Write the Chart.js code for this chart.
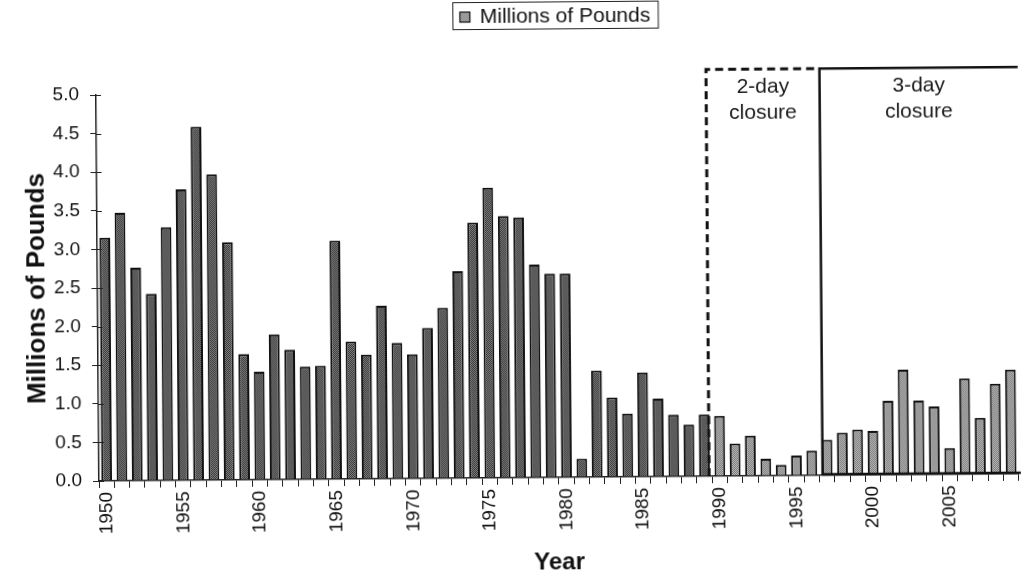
<!DOCTYPE html>
<html>
<head>
<meta charset="utf-8">
<script src="https://cdn.jsdelivr.net/npm/chart.js@4.4.0/dist/chart.umd.min.js"></script>
<style>
  html, body { margin: 0; padding: 0; background: #fff; overflow: hidden; }
  #wrap { position: relative; width: 1038px; height: 582px; }
  /* the source is a slightly skewed scan: right end sits a few px higher */
  #chart { transform: rotate(-0.45deg); transform-origin: 99px 481px; }
</style>
</head>
<body>
<div id="wrap"><canvas id="chart" width="1038" height="582"></canvas></div>
<script>
// Annual harvest, 1950-2009
const YEARS = [
  1950, 1951, 1952, 1953, 1954, 1955, 1956, 1957, 1958, 1959,
  1960, 1961, 1962, 1963, 1964, 1965, 1966, 1967, 1968, 1969,
  1970, 1971, 1972, 1973, 1974, 1975, 1976, 1977, 1978, 1979,
  1980, 1981, 1982, 1983, 1984, 1985, 1986, 1987, 1988, 1989,
  1990, 1991, 1992, 1993, 1994, 1995, 1996, 1997, 1998, 1999,
  2000, 2001, 2002, 2003, 2004, 2005, 2006, 2007, 2008, 2009,
];
const POUNDS = [
  3.15, 3.47, 2.76, 2.42, 3.28, 3.77, 4.58, 3.96, 3.08, 1.63,
  1.40, 1.88, 1.68, 1.46, 1.47, 3.09, 1.78, 1.61, 2.24, 1.76,
  1.61, 1.95, 2.21, 2.68, 3.31, 3.76, 3.39, 3.37, 2.76, 2.64,
  2.64, 0.24, 1.38, 1.03, 0.82, 1.35, 1.01, 0.80, 0.67, 0.80,
  0.78, 0.42, 0.52, 0.22, 0.14, 0.26, 0.32, 0.46, 0.55, 0.59,
  0.57, 0.96, 1.36, 0.96, 0.88, 0.34, 1.24, 0.73, 1.17, 1.35,
];
const SERIES_LABEL = 'Millions of Pounds';
const Y_TICKS = [0, 0.5, 1, 1.5, 2, 2.5, 3, 3.5, 4, 4.5, 5];

// closure periods: label lines + first year
const CLOSURES = [
  { start: 1990, lines: ['2-day', 'closure'], dashed: true },
  { start: 1997, lines: ['3-day', 'closure'], dashed: false },
];

Chart.defaults.font.family = '"Liberation Sans", Arial, sans-serif';
Chart.defaults.color = '#111';

// stippled grey fill like the scanned print
function stipple(dark, light) {
  const c = document.createElement('canvas');
  c.width = 2; c.height = 2;
  const g = c.getContext('2d');
  g.fillStyle = light; g.fillRect(0, 0, 2, 2);
  g.fillStyle = dark; g.fillRect(0, 0, 1, 1); g.fillRect(1, 1, 1, 1);
  return g.createPattern(c, 'repeat');
}
const darkFill = stipple('#383838', '#7e7e7e');
const lightFill = stipple('#767676', '#bdbdbd');

function yearIndex(y) { return YEARS.indexOf(y); }

/** Dashed / solid boxes marking the closure periods. */
const closurePlugin = {
  id: 'closures',
  afterDatasetsDraw(chart) {
    const { ctx, chartArea, scales: { x, y } } = chart;
    const top = y.getPixelForValue(5.27);
    const bottom = y.getPixelForValue(0);
    const edges = CLOSURES.map(c => x.getPixelForValue(yearIndex(c.start) - (c.dashed ? 0.7 : 0.3)));
    ctx.save();
    ctx.strokeStyle = '#111';
    CLOSURES.forEach((c, i) => {
      const x1 = edges[i];
      const x2 = i + 1 < edges.length ? edges[i + 1] : chartArea.right + 2;
      ctx.lineWidth = c.dashed ? 3 : 2.5;
      ctx.setLineDash(c.dashed ? [8, 5] : []);
      ctx.beginPath();
      ctx.moveTo(x1, bottom);
      ctx.lineTo(x1, top);
      ctx.lineTo(x2, top);
      if (!c.dashed) {
        ctx.moveTo(x1, bottom - 1);
        ctx.lineTo(x2, bottom - 1);
      }
      ctx.stroke();
      ctx.setLineDash([]);
      ctx.fillStyle = '#1a1a1a';
      ctx.font = '21px "Liberation Sans", Arial, sans-serif';
      ctx.textAlign = 'center';
      ctx.textBaseline = 'middle';
      const cx = (x1 + x2) / 2;
      c.lines.forEach((t, j) => ctx.fillText(t, cx, top + 18 + j * 26));
    });
    ctx.restore();
  },
};

/** Framed legend at the top centre, like the original. */
const legendBoxPlugin = {
  id: 'legendBox',
  afterDraw(chart) {
    const { ctx, chartArea } = chart;
    ctx.save();
    ctx.font = '21px "Liberation Sans", Arial, sans-serif';
    const tw = ctx.measureText(SERIES_LABEL).width;
    const w = 7 + 10 + 10 + tw + 8;
    const left = Math.round((chartArea.left + chartArea.right) / 2 - w / 2) + 0.5;
    ctx.strokeStyle = '#222';
    ctx.lineWidth = 1;
    ctx.strokeRect(left, 5.5, w, 27);
    ctx.fillStyle = lightFill;
    ctx.fillRect(left + 7, 15, 10, 10);
    ctx.strokeStyle = '#111';
    ctx.lineWidth = 1.2;
    ctx.strokeRect(left + 7, 15, 10, 10);
    ctx.fillStyle = '#111';
    ctx.textBaseline = 'middle';
    ctx.fillText(SERIES_LABEL, left + 27, 20);
    ctx.restore();
  },
};

/** Excel-style tick marks that cross the value axis. */
const crossTicksPlugin = {
  id: 'crossTicks',
  afterDraw(chart) {
    const { ctx, chartArea, scales: { y } } = chart;
    ctx.save();
    ctx.strokeStyle = '#222';
    ctx.lineWidth = 1;
    Y_TICKS.forEach(v => {
      const py = Math.round(y.getPixelForValue(v)) + 0.5;
      ctx.beginPath();
      ctx.moveTo(chartArea.left, py);
      ctx.lineTo(chartArea.left + 5, py);
      ctx.stroke();
    });
    ctx.restore();
  },
};

new Chart(document.getElementById('chart'), {
  type: 'bar',
  data: {
    labels: YEARS,
    datasets: [{
      label: SERIES_LABEL,
      data: POUNDS,
      backgroundColor: c => (YEARS[c.dataIndex] >= 1990 ? lightFill : darkFill),
      borderColor: '#111',
      borderWidth: 2,
      borderSkipped: 'bottom',
      barPercentage: 0.7,
      categoryPercentage: 1,
    }],
  },
  options: {
    responsive: false,
    animation: false,
    layout: { padding: { top: 95, left: 0, right: 0, bottom: 0 } },
    plugins: {
      legend: { display: false },
      tooltip: { enabled: false },
    },
    scales: {
      x: {
        grid: { drawOnChartArea: false, offset: true, tickLength: 7, color: '#222', lineWidth: 1 },
        border: { color: '#222', width: 1.5 },
        ticks: {
          autoSkip: false,
          minRotation: 90,
          maxRotation: 90,
          padding: 4,
          font: { size: 19 },
          color: '#111',
          callback: (v, i) => (YEARS[i] % 5 === 0 ? String(YEARS[i]) : ''),
        },
        title: {
          display: true,
          text: 'Year',
          font: { size: 24, weight: 'bold' },
          color: '#111',
          padding: { top: 4, bottom: 1 },
        },
        afterFit: s => { s.height = 101; },
      },
      y: {
        min: 0,
        max: 5,
        afterBuildTicks: s => { s.ticks = Y_TICKS.map(v => ({ value: v })); },
        ticks: {
          callback: v => Number(v).toFixed(1),
          padding: 11,
          font: { size: 19 },
          color: '#111',
        },
        grid: { drawOnChartArea: false, tickLength: 6, color: '#222' },
        border: { color: '#222', width: 1.5 },
        title: {
          display: true,
          text: 'Millions of Pounds',
          font: { size: 26, weight: 'bold' },
          color: '#111',
          padding: { top: 23, bottom: 0 },
        },
        afterFit: s => { s.width = 99; },
      },
    },
  },
  plugins: [closurePlugin, legendBoxPlugin, crossTicksPlugin],
});
</script>
</body>
</html>
